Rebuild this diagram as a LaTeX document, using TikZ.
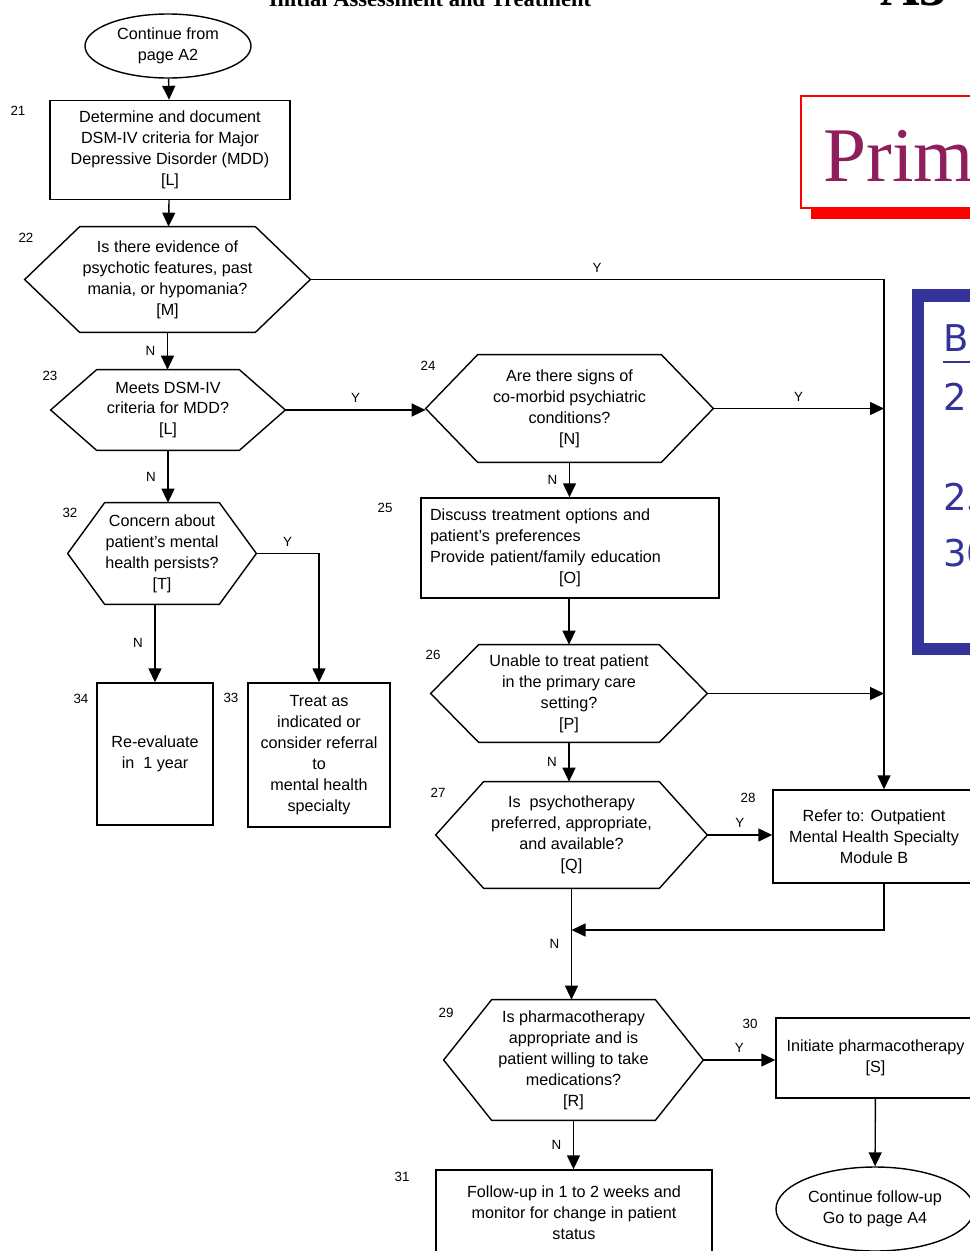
\documentclass[tikz,border=0pt]{standalone}
\usepackage{fontspec}
\setmainfont{Liberation Sans}
\newfontfamily\titleserif{Liberation Serif}
\newfontfamily\sidesans{DejaVu Sans}
\usetikzlibrary{arrows.meta,positioning,shapes.geometric}
\definecolor{sideblue}{HTML}{333399}
\definecolor{bannerred}{HTML}{FF0000}
\definecolor{plum}{HTML}{8E1E5C}
\tikzset{
  ar/.style={-{Triangle[length=2.8mm,width=2.6mm]},line width=0.8pt},
  ln/.style={line width=0.8pt},
  box/.style={draw,line width=0.8pt,align=center,inner sep=2pt,font=\fontsize{9.2}{11.9}\selectfont},
  hexa/.style={align=center,inner sep=0pt,font=\fontsize{9.2}{11.9}\selectfont},
  endo/.style={draw,ellipse,line width=0.8pt,align=center,inner sep=0pt,font=\fontsize{9.2}{11.9}\selectfont},
  num/.style={font=\fontsize{7.6}{9}\selectfont,inner sep=0pt},
  yn/.style={font=\fontsize{7.6}{9}\selectfont,inner sep=2pt}
}
\begin{document}
\begin{tikzpicture}[x=0.2mm,y=-0.2mm]
\useasboundingbox (0,0) rectangle (970,1251);
% page header, cut at the top
\node[font=\titleserif\bfseries\fontsize{12.8}{13}\selectfont,anchor=base,inner sep=0pt] (title) at (430,6) {Initial Assessment and Treatment};
\node[font=\titleserif\bfseries\fontsize{31}{31}\selectfont,anchor=base west,inner sep=0pt] (page) at (880,5) {A3};
% banner
\draw[bannerred,line width=1.2pt] (801,96) rectangle (995,208);
\fill[bannerred] (811,208) rectangle (995,219);
\node[font=\titleserif\fontsize{44}{44}\selectfont,text=plum,anchor=base west,inner sep=0pt] (banner) at (823,181) {Prim};
% side panel
\draw[sideblue,line width=2.5mm] (995,295.5) -- (918,295.5) -- (918,649) -- (995,649);
\node[font=\sidesans\fontsize{21}{21}\selectfont,text=sideblue,anchor=base west,inner sep=0pt] (sB) at (943,351) {B};
\draw[sideblue,line width=0.5mm] ([yshift=-2.2mm]sB.base west) -- ++(12mm,0);
\node[font=\sidesans\fontsize{21}{21}\selectfont,text=sideblue,anchor=base west,inner sep=0pt] (s2) at (943,410) {2};
\node[font=\sidesans\fontsize{21}{21}\selectfont,text=sideblue,anchor=base west,inner sep=0pt] (s25) at (943,510) {25};
\node[font=\sidesans\fontsize{21}{21}\selectfont,text=sideblue,anchor=base west,inner sep=0pt] (s30) at (943,566) {30};
% left column
\node[endo,minimum width=33.2mm,minimum height=12.8mm] (start) at (168,46) {Continue from\\page A2};
\node[box,minimum width=48mm,minimum height=19.8mm] (b21) at (170,150) {Determine and document\\DSM-IV criteria for Major\\Depressive Disorder (MDD)\\{[L]}};
\node[hexa,minimum width=57mm,minimum height=21mm] (h22) at (167.5,279.5) {Is there evidence of\\psychotic features, past\\mania, or hypomania?\\{[M]}};
\node[hexa,minimum width=46.8mm,minimum height=16mm] (h23) at (168,410) {Meets DSM-IV\\criteria for MDD?\\{[L]}};
\node[hexa,minimum width=37.6mm,minimum height=20.2mm] (h32) at (162,553.5) {Concern about\\patient's mental\\health persists?\\{[T]}};
\node[box,minimum width=23.2mm,minimum height=28.4mm] (b34) at (155,754) {Re-evaluate\\in \ 1 year};
\node[box,minimum width=28.4mm,minimum height=28.8mm] (b33) at (319,755) {Treat as\\indicated or\\consider referral\\to\\mental health\\specialty};
% middle column
\node[hexa,minimum width=57.4mm,minimum height=21.4mm] (h24) at (569.5,408.5) {Are there signs of\\co-morbid psychiatric\\conditions?\\{[N]}};
\node[box,minimum width=59.6mm,minimum height=20mm,text width=56mm,align=left] (b25) at (570,548) {Discuss treatment options and\\patient's preferences\\Provide patient/family education\\\makebox[\linewidth]{[O]}};
\node[hexa,minimum width=55.2mm,minimum height=19.4mm] (h26) at (569,693.5) {Unable to treat patient\\in the primary care\\setting?\\{[P]}};
\node[hexa,minimum width=54.2mm,minimum height=21.2mm] (h27) at (571.5,835) {Is \ psychotherapy\\preferred, appropriate,\\and available?\\{[Q]}};
\node[hexa,minimum width=51.8mm,minimum height=24mm] (h29) at (573.5,1060) {Is pharmacotherapy\\appropriate and is\\patient willing to take\\medications?\\{[R]}};
\node[box,minimum width=55.2mm,minimum height=17.2mm] (b31) at (574,1213) {Follow-up in 1 to 2 weeks and\\monitor for change in patient\\status};
% right column
\node[box,minimum width=40.4mm,minimum height=18.6mm] (b28) at (874,836.5) {Refer to: Outpatient\\Mental Health Specialty\\Module B};
\node[box,minimum width=39.8mm,minimum height=16mm] (b30) at (875.5,1058) {Initiate pharmacotherapy\\{[S]}};
\node[endo,minimum width=39.6mm,minimum height=16.8mm] (stop) at (875,1209) {Continue follow-up\\Go to page A4};
% hexagon outlines
\foreach \h/\d in {h22/11mm,h23/9.2mm,h32/7.4mm,h24/10.4mm,h26/9.6mm,h27/9.6mm,h29/9.6mm}
  \draw[ln] (\h.west) -- ([xshift=\d]\h.north west) -- ([xshift=-\d]\h.north east)
    -- (\h.east) -- ([xshift=-\d]\h.south east) -- ([xshift=\d]\h.south west) -- cycle;
% step numbers
\node[num] (n21) at (18,111) {21};
\node[num] (n22) at (26,238) {22};
\node[num] (n23) at (50,376) {23};
\node[num] (n32) at (70,513) {32};
\node[num] (n34) at (81,699) {34};
\node[num] (n33) at (231,698) {33};
\node[num] (n24) at (428,366) {24};
\node[num] (n25) at (385,508) {25};
\node[num] (n26) at (433,655) {26};
\node[num] (n27) at (438,793) {27};
\node[num] (n28) at (748,798) {28};
\node[num] (n29) at (446,1013) {29};
\node[num] (n30) at (750,1024) {30};
\node[num] (n31) at (402,1177) {31};
% connectors
\coordinate (rail) at (884,279.5);
\coordinate (merge) at (571.5,930);
\draw[ar] (start) -- (b21);
\draw[ar] (b21) -- (h22);
\draw[ar] (h22.east) -- node[yn,above=0.6mm]{Y} (rail) -- (rail |- b28.north);
\draw[ar] (h22.south) -- node[yn,left=1.6mm]{N} (h22.south |- h23.north);
\draw[ar] (h23.east) -- node[yn,above=0.6mm]{Y} (h23.east -| h24.west);
\draw[ar] (h23.south) -- node[yn,left=1.6mm]{N} (h23.south |- h32.north);
\draw[ar] (h32.east) -| node[yn,pos=0.25,above=0.6mm]{Y} (b33.north);
\draw[ar] (b34.north |- h32.south) -- node[yn,left=1.6mm]{N} (b34.north);
\draw[ar] (h24.east) -- node[yn,above=0.6mm]{Y} (h24.east -| rail);
\draw[ar] (h24.south) -- node[yn,left=1.6mm]{N} (h24.south |- b25.north);
\draw[ar] (b25.south -| h26.north) -- (h26.north);
\draw[ar] (h26.east) -- (h26.east -| rail);
\draw[ar] (h26.south) -- node[yn,left=1.6mm]{N} (h26.south |- h27.north);
\draw[ar] (h27.east) -- node[yn,above=0.6mm]{Y} (h27.east -| b28.west);
\draw[ar] (rail |- b28.south) -- (rail |- merge) -- (merge);
\draw[ar] (h27.south) -- node[yn,left=1.6mm]{N} (h27.south |- h29.north);
\draw[ar] (h29.east) -- node[yn,above=0.6mm]{Y} (h29.east -| b30.west);
\draw[ar] (h29.south) -- node[yn,left=1.6mm]{N} (h29.south |- b31.north);
\draw[ar] (b30) -- (stop);
\end{tikzpicture}
\end{document}
